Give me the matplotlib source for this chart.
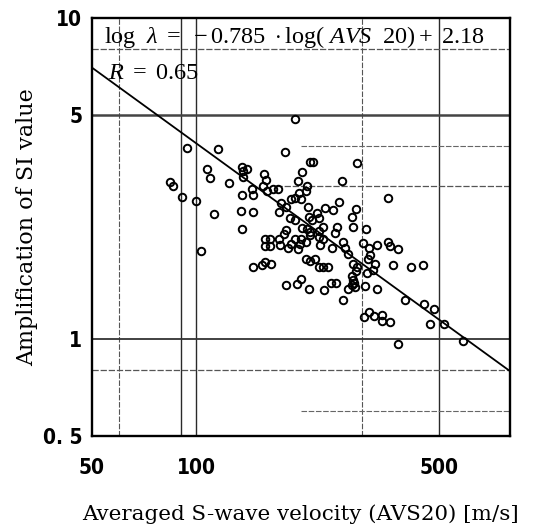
import numpy as np
import matplotlib.pyplot as plt
from matplotlib.ticker import FixedLocator, FixedFormatter, NullLocator

plt.rcParams['mathtext.fontset'] = 'custom'
plt.rcParams['mathtext.rm'] = 'Liberation Serif'
plt.rcParams['mathtext.it'] = 'Liberation Serif:italic'

# averaged S-wave velocity AVS20 [m/s] and amplification of SI value
avs20 = [192, 94, 115, 180, 107, 109.5, 84, 85.5, 90.6, 99.6,
         112, 103, 124, 135, 140, 136, 136, 135, 134.5, 145.6,
         135, 144.6, 145.6, 157, 159, 155, 160, 166, 172, 175.6,
         181.5, 172.5, 186, 192, 181, 201, 195.5, 213, 217, 208.5,
         207, 198, 187, 192.6, 200, 209, 211, 201, 208, 290,
         263, 356, 234, 248, 258, 288, 280, 283, 308, 222,
         225, 215, 232, 225, 254, 250, 265, 267.5, 274, 225,
         232, 227, 245, 220, 225, 232, 240, 283, 290, 288,
         280, 283, 285, 281, 287, 302, 314.5, 331.5, 356.5, 362,
         381, 317, 312, 326.5, 323, 309, 368, 416, 449, 306,
         331.5, 233, 244, 252, 272.5, 264, 400, 451, 482, 471,
         518, 587, 304, 314, 324, 343, 343, 362, 381, 157.6,
         162.5, 158, 163, 172.5, 174, 178.6, 184, 187.5, 192, 196,
         198.5, 200, 207, 212, 207, 212, 145, 154.5, 158, 164,
         181.5, 195, 200, 211, 213]
amp_si = [4.85, 3.95, 3.91, 3.84, 3.40, 3.17, 3.10, 3.00, 2.77, 2.70,
          2.46, 1.88, 3.08, 3.45, 3.40, 3.34, 3.20, 2.82, 2.51, 2.49,
          2.21, 2.95, 2.82, 3.28, 3.14, 3.00, 2.89, 2.95, 2.95, 2.65,
          2.58, 2.49, 2.38, 2.35, 2.19, 3.33, 3.11, 3.56, 3.56, 3.00,
          2.90, 2.85, 2.74, 2.75, 2.73, 2.59, 2.41, 2.22, 2.21, 3.53,
          3.11, 2.75, 2.56, 2.52, 2.67, 2.55, 2.41, 2.24, 2.20, 2.47,
          2.38, 2.35, 2.24, 2.17, 2.24, 2.15, 2.01, 1.92, 1.84, 2.09,
          2.06, 1.97, 1.92, 1.78, 1.68, 1.68, 1.68, 1.72, 1.68, 1.63,
          1.57, 1.53, 1.50, 1.48, 1.46, 2.00, 1.92, 1.97, 2.01, 1.95,
          1.91, 1.83, 1.78, 1.72, 1.65, 1.61, 1.70, 1.68, 1.70, 1.47,
          1.43, 1.42, 1.50, 1.50, 1.43, 1.33, 1.33, 1.29, 1.24, 1.12,
          1.12, 0.99, 1.17, 1.22, 1.18, 1.19, 1.14, 1.13, 0.97, 2.05,
          2.05, 1.95, 1.95, 2.06, 1.97, 2.13, 1.93, 1.98, 2.05, 1.91,
          1.98, 2.06, 2.01, 2.11, 1.78, 1.76, 1.68, 1.70, 1.74, 1.72,
          1.48, 1.49, 1.54, 1.44, 2.16]

# regression: log(lambda) = -0.785 log(AVS20) + 2.18
slope = -0.785
intercept = 2.18

x_ticks = [50, 100, 500]
x_tick_labels = ['50', '100', '500']
y_ticks = [0.5, 1, 5, 10]
y_tick_labels = ['0. 5', '1', '5', '10']

fig = plt.figure(figsize=(5.33, 5.29), dpi=100)
ax = fig.add_axes([0.1726, 0.1758, 0.7842, 0.7896])
ax.set_xscale('log')
ax.set_yscale('log')
ax.set_xlim(50, 800)
ax.set_ylim(0.5, 10)

# grid lines as printed in the figure
dash = (0, (5, 1.5))
for xv in [90, 100, 500]:
    ax.axvline(xv, color='#2a2a2a', lw=1.0, zorder=1)
for xv in [60, 300]:
    ax.axvline(xv, color='#555555', lw=0.8, ls=dash, zorder=1)
ax.axhline(5, color='#444444', lw=1.8, zorder=1)
ax.axhline(1, color='#333333', lw=1.3, zorder=1)
for yv in [8, 0.8]:
    ax.axhline(yv, color='#555555', lw=0.9, ls=dash, zorder=1)
ax.hlines([4, 0.6], 200, 800, color='#666666', lw=0.8, ls=dash, zorder=1)
ax.hlines(3, 170, 800, color='#555555', lw=0.9, ls=dash, zorder=1)

ax.plot(avs20, amp_si, 'o', mfc='none', mec='black', ms=5.4, mew=1.4, zorder=3)

xs = np.array([50, 800])
ax.plot(xs, 10 ** (intercept + slope * np.log10(xs)), color='black', lw=1.3, zorder=2)

for sp in ax.spines.values():
    sp.set_linewidth(1.7)

ax.xaxis.set_major_locator(FixedLocator(x_ticks))
ax.xaxis.set_major_formatter(FixedFormatter(x_tick_labels))
ax.yaxis.set_major_locator(FixedLocator(y_ticks))
ax.yaxis.set_major_formatter(FixedFormatter(y_tick_labels))
ax.xaxis.set_minor_locator(NullLocator())
ax.yaxis.set_minor_locator(NullLocator())
ax.tick_params(axis='x', length=0, pad=16)
ax.tick_params(axis='y', length=0, pad=7)
for lab in ax.get_xticklabels() + ax.get_yticklabels():
    lab.set_fontfamily('DejaVu Sans')
    lab.set_fontstretch('condensed')
    lab.set_fontweight('bold')
    lab.set_fontsize(15)

ax.set_xlabel('Averaged S-wave velocity (AVS20) [m/s]', family='DejaVu Serif',
              fontsize=15.4, va='center')
ax.xaxis.set_label_coords(0.5, -0.187)
ax.set_ylabel('Amplification of SI value', family='DejaVu Serif',
              fontsize=16, va='center')
ax.yaxis.set_label_coords(-0.156, 0.5)

ax.text(0.028, 0.955, r'$\mathrm{log}\ \ \lambda\ =\ -0.785\ \cdot\mathrm{log}(\ AVS\ \ 20)+\ 2.18$',
        transform=ax.transAxes, fontsize=17.5, va='center', ha='left')
ax.text(0.0376, 0.871, r'$R\ =\ 0.65$', transform=ax.transAxes,
        fontsize=17.5, va='center', ha='left')

fig.savefig('out.png', dpi=100)
